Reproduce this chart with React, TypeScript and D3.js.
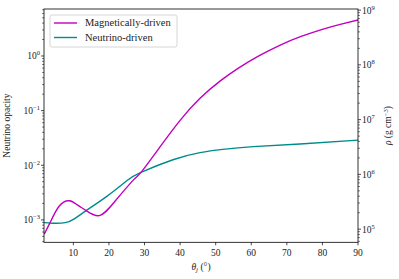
import * as d3 from 'd3'

const W = 399
const H = 279
const M = { left: 44, right: 358, top: 9, bottom: 242.3 }

// magnetically-driven opacity vs jet angle
const thetaMag = [1.8, 3.45, 6, 8.9, 11.2, 13.6, 17.3, 21.7, 26.9, 29, 34.4, 40, 45.6, 51.3, 56.5, 62, 68, 74, 80, 85, 90]
const opacityMag = [5.5e-4, 8.9e-4, 1.78e-3, 2.24e-3, 1.86e-3, 1.48e-3, 1.2e-3, 2.19e-3, 5.4e-3, 7.4e-3, 2.19e-2, 6.64e-2, 0.168, 0.35, 0.607, 0.993, 1.57, 2.28, 3.08, 3.79, 4.56]

// neutrino-driven opacity vs jet angle
const thetaNu = [1.8, 4, 7.7, 10.5, 13.6, 19.4, 25, 29, 38, 45.6, 52, 60.5, 73.7, 90]
const opacityNu = [8.9e-4, 8.7e-4, 8.9e-4, 1.07e-3, 1.48e-3, 2.69e-3, 5.2e-3, 7.4e-3, 1.26e-2, 1.7e-2, 1.95e-2, 2.19e-2, 2.45e-2, 2.88e-2]

const xTicks = [10, 20, 30, 40, 50, 60, 70, 80, 90]
const leftExps = [-3, -2, -1, 0]
const rightExps = [5, 6, 7, 8, 9]

const FONT = "'Liberation Serif', 'DejaVu Serif', serif"
const MAG = '#bf00bf'
const NU = '#008b8b'

function minorTicks(scale: d3.ScaleLogarithmic<number, number>) {
  const [a, b] = scale.domain()
  const out: number[] = []
  for (let e = Math.floor(Math.log10(a)); e <= Math.ceil(Math.log10(b)); e++) {
    for (let k = 2; k <= 9; k++) {
      const v = k * Math.pow(10, e)
      if (v >= a && v <= b) out.push(v)
    }
  }
  return out
}

function Pow({ x, y, exp, anchor }: { x: number; y: number; exp: number; anchor: string }) {
  const s = exp < 0 ? '\u2212' + Math.abs(exp) : String(exp)
  return (
    <text x={x} y={y} textAnchor={anchor} fontSize={9.5}>
      10<tspan dy={-4} fontSize={6.5}>{s}</tspan>
    </text>
  )
}

export default function App() {
  const x = d3.scaleLinear().domain([1.75, 90]).range([M.left, M.right])
  const yL = d3.scaleLog().domain([Math.pow(10, -3.41), Math.pow(10, 0.86)]).range([M.bottom, M.top])
  const yR = d3.scaleLog().domain([Math.pow(10, 4.76), Math.pow(10, 9.02)]).range([M.bottom, M.top])

  const line = d3.line<[number, number]>()
    .x(d => x(d[0]))
    .y(d => yL(d[1]))
    .curve(d3.curveNatural)

  const magPath = line(thetaMag.map((t, i) => [t, opacityMag[i]]))
  const nuPath = line(thetaNu.map((t, i) => [t, opacityNu[i]]))

  const cy = (M.top + M.bottom) / 2

  return (
    <svg width={W} height={H} style={{ position: 'absolute', left: 0, top: 0, background: '#fff', fontFamily: FONT, fill: '#222' }}>
      <defs>
        <clipPath id="plot">
          <rect x={M.left} y={M.top} width={M.right - M.left} height={M.bottom - M.top} />
        </clipPath>
      </defs>

      <g clipPath="url(#plot)">
        <path d={nuPath ?? ''} fill="none" stroke={NU} strokeWidth={1.4} />
        <path d={magPath ?? ''} fill="none" stroke={MAG} strokeWidth={1.4} />
      </g>

      {/* frame */}
      <rect x={M.left} y={M.top} width={M.right - M.left} height={M.bottom - M.top} fill="none" stroke="#000" strokeWidth={0.8} />

      {/* x axis */}
      {xTicks.map(t => (
        <g key={`x-${t}`}>
          <line x1={x(t)} x2={x(t)} y1={M.bottom} y2={M.bottom + 3} stroke="#000" strokeWidth={0.7} />
          <text x={x(t)} y={M.bottom + 14} textAnchor="middle" fontSize={9.5}>{t}</text>
        </g>
      ))}
      <text x={(M.left + M.right) / 2} y={270} textAnchor="middle" fontSize={9.5}>
        <tspan fontStyle="italic">θ</tspan><tspan fontStyle="italic" fontSize={7} dy={2}>j</tspan><tspan dy={-2}> (°)</tspan>
      </text>

      {/* left axis */}
      {leftExps.map(e => (
        <g key={`l-${e}`}>
          <line x1={M.left - 3} x2={M.left} y1={yL(Math.pow(10, e))} y2={yL(Math.pow(10, e))} stroke="#000" strokeWidth={0.7} />
          <Pow x={M.left - 4} y={yL(Math.pow(10, e)) + 3.5} exp={e} anchor="end" />
        </g>
      ))}
      {minorTicks(yL).map((v, i) => (
        <line key={`lm-${i}`} x1={M.left - 1.8} x2={M.left} y1={yL(v)} y2={yL(v)} stroke="#000" strokeWidth={0.6} />
      ))}
      <text transform={`translate(10,${cy}) rotate(-90)`} textAnchor="middle" fontSize={9.5}>
        Neutrino opacity
      </text>

      {/* right axis */}
      {rightExps.map(e => (
        <g key={`r-${e}`}>
          <line x1={M.right} x2={M.right + 3} y1={yR(Math.pow(10, e))} y2={yR(Math.pow(10, e))} stroke="#000" strokeWidth={0.7} />
          <Pow x={M.right + 4} y={yR(Math.pow(10, e)) + 3.5} exp={e} anchor="start" />
        </g>
      ))}
      {minorTicks(yR).map((v, i) => (
        <line key={`rm-${i}`} x1={M.right} x2={M.right + 1.8} y1={yR(v)} y2={yR(v)} stroke="#000" strokeWidth={0.6} />
      ))}
      <text transform={`translate(391,${cy}) rotate(-90)`} textAnchor="middle" fontSize={9.5}>
        <tspan fontStyle="italic">ρ</tspan> (g cm<tspan dy={-3.5} fontSize={6.5}>−3</tspan><tspan dy={3.5}>)</tspan>
      </text>

      {/* legend */}
      <rect x={50} y={15} width={127} height={32} rx={2} fill="#fff" fillOpacity={0.8} stroke="#ccc" strokeWidth={0.8} />
      <line x1={54} x2={77} y1={23} y2={23} stroke={MAG} strokeWidth={1.4} />
      <text x={85} y={26.3} fontSize={10.5}>Magnetically-driven</text>
      <line x1={54} x2={77} y1={37.5} y2={37.5} stroke={NU} strokeWidth={1.4} />
      <text x={85} y={40.8} fontSize={10.5}>Neutrino-driven</text>
    </svg>
  )
}
